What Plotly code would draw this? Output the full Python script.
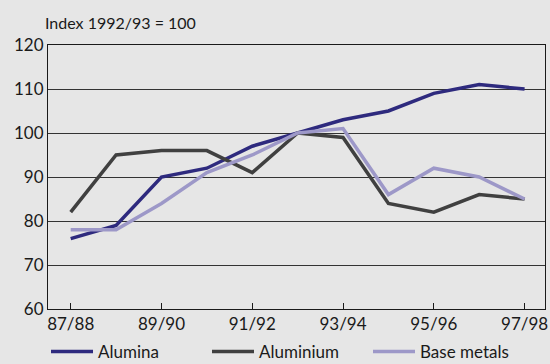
import plotly.graph_objects as go

years = ["87/88", "88/89", "89/90", "90/91", "91/92", "92/93", "93/94", "94/95", "95/96", "96/97", "97/98"]
alumina = [76, 79, 90, 92, 97, 100, 103, 105, 109, 111, 110]
aluminium = [82, 95, 96, 96, 91, 100, 99, 84, 82, 86, 85]
base_metals = [78, 78, 84, 91, 95, 100, 101, 86, 92, 90, 85]
tick_labels = ["87/88", "89/90", "91/92", "93/94", "95/96", "97/98"]

FONT = "Lato"
W, H = 550, 364
ML, MR, MT, MB = 48, 5, 45, 55
pw = W - ML - MR
ph = H - MT - MB

series = [("Alumina", alumina, "#2e2a7e"),
          ("Aluminium", aluminium, "#404040"),
          ("Base metals", base_metals, "#9d98c8")]

fig = go.Figure()
for name, vals, col in series:
    fig.add_trace(go.Scatter(x=list(range(len(years))), y=vals, mode="lines", name=name,
                             line=dict(color=col, width=3.5)))

fig.update_layout(
    width=W, height=H,
    paper_bgcolor="#e6e6e6", plot_bgcolor="#e6e6e6",
    margin=dict(l=ML, r=MR, t=MT, b=MB, autoexpand=False),
    font=dict(family=FONT, size=17, color="#1a1a1a"),
    showlegend=True,
    title=dict(text="Index 1992/93 = 100", xref="container", yref="container",
               x=45 / W, y=1 - 23 / H, xanchor="left", yanchor="middle",
               font=dict(size=16, family=FONT, color="#1a1a1a")),
    legend=dict(orientation="h", x=(46 - ML) / pw, y=-(352 - MT - ph) / ph,
                xanchor="left", yanchor="middle", font=dict(size=17, family=FONT, color="#1a1a1a"),
                bgcolor="rgba(0,0,0,0)", borderwidth=0, entrywidth=104, entrywidthmode="pixels",
                itemwidth=42, traceorder="normal"),
)
fig.update_xaxes(range=[-0.5, 10.45], tickvals=[0, 2, 4, 6, 8, 10], ticktext=tick_labels,
                 showgrid=False, showline=True, linecolor="#1a1a1a", linewidth=1, mirror=True,
                 ticks="inside", ticklen=6, tickcolor="#1a1a1a", zeroline=False, automargin=False)
fig.update_yaxes(range=[60, 120], dtick=10, showgrid=True, gridcolor="#333333", gridwidth=1,
                 showline=True, linecolor="#1a1a1a", linewidth=1, mirror=True,
                 ticks="", zeroline=False, automargin=False)
fig.write_html("out.html", post_script="document.body.style.margin='0';",
               config={"displayModeBar": False})
